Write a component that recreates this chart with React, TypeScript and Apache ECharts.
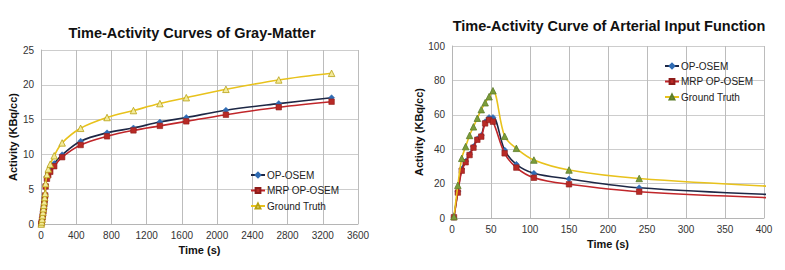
import React, { useEffect, useRef } from "react";
import * as echarts from "echarts";

// ---- Gray-matter TAC (left) ----
const gmTime = [2.5, 7.5, 12.5, 17.5, 22.5, 27.5, 32.5, 37.5, 42.5, 47.5, 52.5, 67.5, 82.5, 105, 150, 240, 450, 750, 1050, 1350, 1650, 2100, 2700, 3300];
const gmOpOsem = [0, 0.2, 0.6, 1.0, 1.5, 2.0, 2.5, 3.0, 3.6, 4.2, 5.6, 6.8, 7.3, 7.9, 8.7, 9.95, 11.9, 13.1, 13.8, 14.65, 15.3, 16.35, 17.3, 18.15];
const gmMrp = [0, 0.2, 0.6, 1.0, 1.5, 1.9, 2.4, 2.9, 3.5, 4.1, 5.4, 6.5, 7.0, 7.5, 8.3, 9.6, 11.35, 12.6, 13.45, 14.1, 14.75, 15.7, 16.78, 17.57];
const gmTruth = [0, 0.3, 0.7, 1.2, 1.7, 2.2, 2.7, 3.2, 3.8, 4.4, 5.8, 7.1, 7.9, 8.6, 9.8, 11.65, 13.75, 15.3, 16.3, 17.3, 18.15, 19.35, 20.7, 21.65];

// ---- Arterial input function (right) ----
const aifTime = [2.5, 7.5, 12.5, 17.5, 22.5, 27.5, 32.5, 37.5, 42.5, 47.5, 52.5, 67.5, 82.5, 105, 150, 240, 450];
const aifOpOsem = [0.5, 15.5, 28.5, 33, 37, 41.5, 46, 48, 56, 58.5, 58.5, 39.5, 31.2, 26, 22.7, 17.6, 12.9];
const aifMrp = [0.4, 14.8, 27.5, 32.4, 36.6, 40.9, 45.5, 47.3, 55, 57, 56, 37.6, 29.3, 23.4, 19.6, 15.3, 11.1];
const aifTruth = [0.8, 19, 34.7, 41.5, 48, 53, 58, 63, 67, 70.5, 74, 47.5, 40.5, 33.7, 27.9, 23, 17.5];

const seriesNames = ["OP-OSEM", "MRP OP-OSEM", "Ground Truth"];
const titles = ["Time-Activity Curves of Gray-Matter", "Time-Activity Curve of Arterial Input Function"];
const xName = "Time (s)";
const yName = "Activity (KBq/cc)";

const FONT = "'Liberation Sans', Arial, sans-serif";

const zip = (xs: number[], ys: number[]) => xs.map((x, i) => [x, ys[i]]);

const BLUE_LINE = "#1d2745";
const BLUE_MK = "#2f6bb3";
const RED_LINE = "#c0262a";
const RED_MK = "#b82a26";
const YEL_LINE = "#e8c21c";

function axisX(gridIndex: number, max: number, interval: number, nameGap: number) {
  return {
    type: "value",
    gridIndex,
    min: 0,
    max,
    interval,
    name: xName,
    nameLocation: "middle",
    nameGap,
    nameTextStyle: { fontFamily: FONT, fontWeight: "bold", fontSize: 11, color: "#111" },
    axisLabel: { fontFamily: FONT, fontSize: 10, color: "#333", margin: 6, formatter: (v: number) => String(v) },
    axisTick: { show: false },
    axisLine: { lineStyle: { color: "#b5b5b5", width: 1 } },
    splitLine: { show: true, lineStyle: { color: "#bcbcbc", width: 1 } },
  };
}

function axisY(gridIndex: number, max: number, interval: number, nameGap: number) {
  return {
    type: "value",
    gridIndex,
    min: 0,
    max,
    interval,
    name: yName,
    nameLocation: "middle",
    nameGap,
    nameTextStyle: { fontFamily: FONT, fontWeight: "bold", fontSize: 11, color: "#111" },
    axisLabel: { fontFamily: FONT, fontSize: 10, color: "#333", margin: 7, formatter: (v: number) => String(v) },
    axisTick: { show: false },
    axisLine: { show: true, lineStyle: { color: "#b5b5b5", width: 1 } },
    splitLine: { show: true, lineStyle: { color: "#cdcdcd", width: 1 } },
  };
}

function makeSeries(idx: number, t: number[], a: number[], b: number[], c: number[], gtFill: string, gtBorder: string) {
  return [
    {
      name: seriesNames[0],
      type: "line",
      xAxisIndex: idx,
      yAxisIndex: idx,
      data: zip(t, a),
      smooth: 0.35,
      symbol: "diamond",
      symbolSize: 6,
      lineStyle: { color: BLUE_LINE, width: 1.6 },
      itemStyle: { color: BLUE_MK, borderColor: BLUE_MK, borderWidth: 0.5 },
      z: 3,
    },
    {
      name: seriesNames[1],
      type: "line",
      xAxisIndex: idx,
      yAxisIndex: idx,
      data: zip(t, b),
      smooth: 0.35,
      symbol: "rect",
      symbolSize: 5.5,
      lineStyle: { color: RED_LINE, width: 1.6 },
      itemStyle: { color: RED_MK, borderColor: "#8e1c1a", borderWidth: 0.6 },
      z: 4,
    },
    {
      name: seriesNames[2],
      type: "line",
      xAxisIndex: idx,
      yAxisIndex: idx,
      data: zip(t, c),
      smooth: 0.35,
      symbol: "triangle",
      symbolSize: 6.5,
      lineStyle: { color: YEL_LINE, width: 1.6 },
      itemStyle: { color: gtFill, borderColor: gtBorder, borderWidth: 0.8 },
      z: 5,
    },
  ];
}

export default function App() {
  const ref = useRef<HTMLDivElement>(null);
  useEffect(() => {
    if (!ref.current) return;
    const chart = echarts.init(ref.current, null, { renderer: "svg" });
    const legendCommon = {
      orient: "vertical",
      itemWidth: 14,
      itemHeight: 6,
      itemGap: 5.5,
      padding: 0,
      textStyle: { fontFamily: FONT, fontSize: 10, color: "#222", padding: [0, 0, 0, -3] },
    };
    chart.setOption({
      animation: false,
      backgroundColor: "#fff",
      graphic: [
        {
          type: "text",
          x: 192,
          y: 33,
          style: { text: titles[0], fontFamily: FONT, fontWeight: "bold", fontSize: 14.5, fill: "#111", textAlign: "center", textVerticalAlign: "middle" },
        },
        {
          type: "text",
          x: 609,
          y: 26,
          style: { text: titles[1], fontFamily: FONT, fontWeight: "bold", fontSize: 14.5, fill: "#111", textAlign: "center", textVerticalAlign: "middle" },
        },
      ],
      grid: [
        { left: 41, top: 50, width: 317, height: 174 },
        { left: 452, top: 46, width: 312, height: 172 },
      ],
      xAxis: [axisX(0, 3600, 400, 18), axisX(1, 400, 50, 18)],
      yAxis: [axisY(0, 25, 5, 18), axisY(1, 100, 20, 22)],
      legend: [
        {
          ...legendCommon,
          left: 250,
          top: 170,
          data: seriesNames.map((n) => ({ name: n })),
        },
        {
          ...legendCommon,
          left: 664,
          top: 61,
          data: [
            { name: seriesNames[0] },
            { name: seriesNames[1] },
            { name: seriesNames[2], itemStyle: { color: "#7b9c3a", borderColor: "#5d7d2a" } },
          ],
        },
      ],
      series: [
        ...makeSeries(0, gmTime, gmOpOsem, gmMrp, gmTruth, "#f3ea9a", "#b7a112"),
        ...makeSeries(1, aifTime, aifOpOsem, aifMrp, aifTruth, "#7b9c3a", "#5d7d2a"),
      ],
    });
    return () => chart.dispose();
  }, []);
  return (
    <div
      ref={ref}
      style={{ position: "absolute", left: 0, top: 0, width: 785, height: 270, background: "#fff" }}
    />
  );
}
